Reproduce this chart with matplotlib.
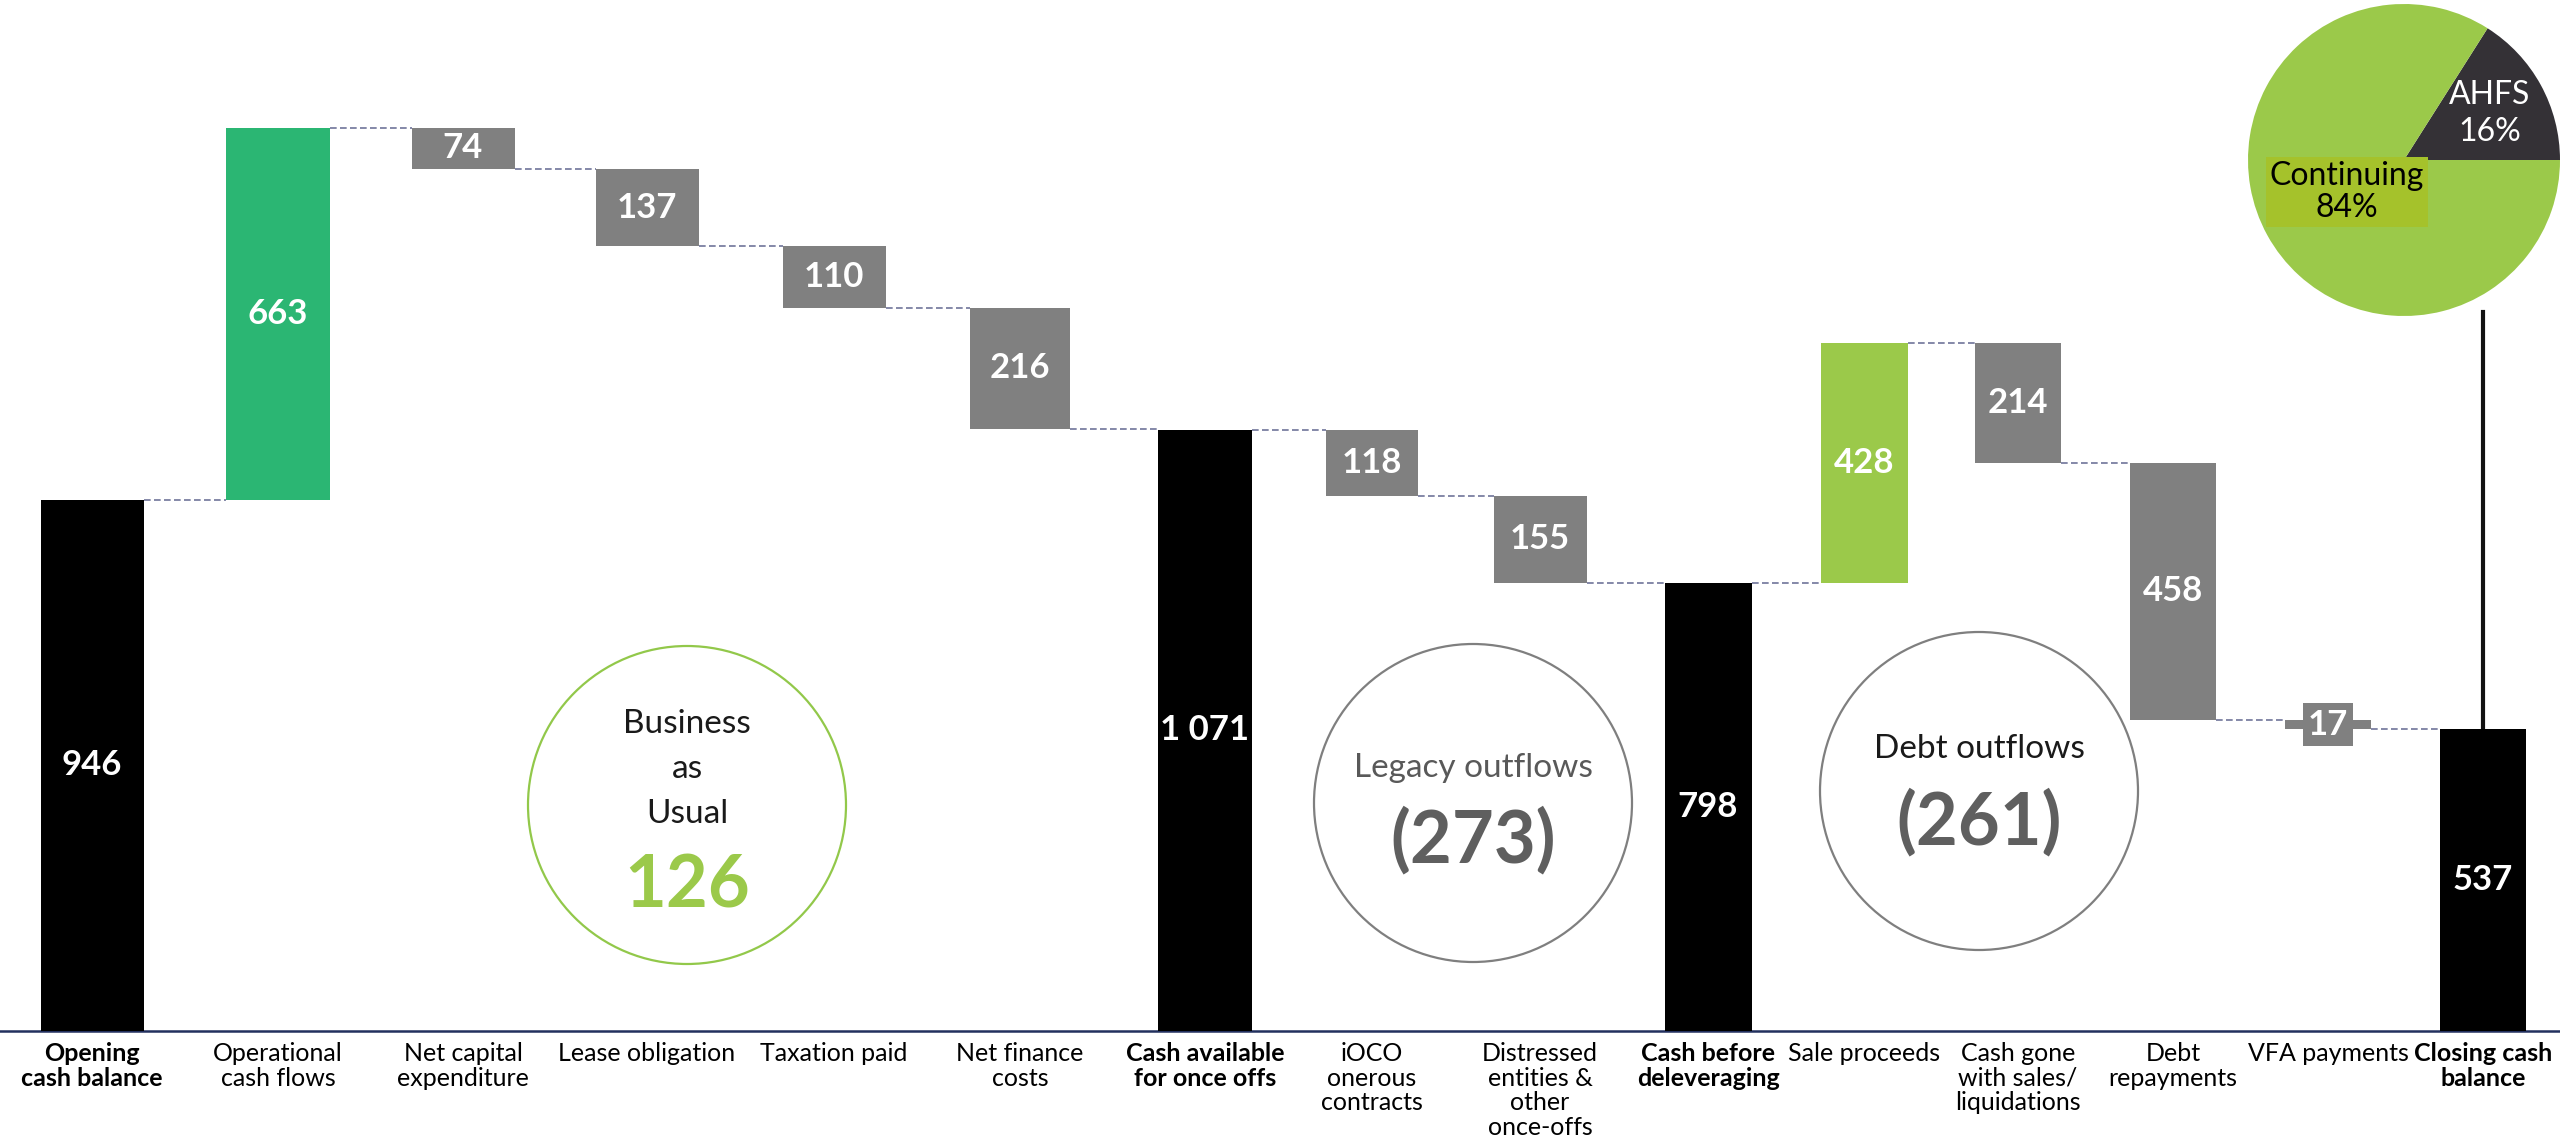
import matplotlib
matplotlib.use("Agg")
import matplotlib.pyplot as plt
from matplotlib.patches import Circle

plt.rcParams['font.family'] = ['Lato', 'DejaVu Sans']

# ---- data -------------------------------------------------------------
categories = [
    "Opening\ncash balance", "Operational\ncash flows", "Net capital\nexpenditure",
    "Lease obligation", "Taxation paid", "Net finance\ncosts",
    "Cash available\nfor once offs", "iOCO\nonerous\ncontracts",
    "Distressed\nentities &\nother\nonce-offs", "Cash before\ndeleveraging",
    "Sale proceeds", "Cash gone\nwith sales/\nliquidations", "Debt\nrepayments",
    "VFA payments", "Closing cash\nbalance",
]
amounts = [946, 663, 74, 137, 110, 216, 1071, 118, 155, 798, 428, 214, 458, 17, 537]
kinds = ["total", "inflow", "outflow", "outflow", "outflow", "outflow", "total",
         "outflow", "outflow", "total", "inflow", "outflow", "outflow", "outflow", "total"]

# summary bubbles: title and the bars they sum up
group_titles = ["Business\nas\nUsual", "Legacy outflows", "Debt outflows"]
group_members = [[1, 2, 3, 4, 5], [7, 8], [10, 11, 12, 13]]

pie_labels = ["AHFS", "Continuing"]
pie_shares = [16, 84]

# ---- layout & style ---------------------------------------------------
W, H = 2560, 1146
x_pos = [92, 278, 463, 647, 834, 1020, 1205, 1372, 1540, 1708, 1864, 2018, 2173, 2328, 2483]
bar_w = [103, 104, 103, 103, 103, 100, 94, 92, 93, 87, 87, 86, 86, 86, 86]
bar_colors = ["#000000", "#2BB673", "#808080", "#808080", "#808080", "#808080", "#000000",
              "#808080", "#808080", "#000000", "#9BC94A", "#808080", "#808080", "#808080",
              "#000000"]
bold_ticks = {0, 6, 9, 14}
baseline_px = 1031
px_per_unit = 0.5615

fig = plt.figure(figsize=(W / 100, H / 100), dpi=100)
fig.patch.set_facecolor("white")
ax = fig.add_axes([0, (H - baseline_px) / H, 1, baseline_px / H])
ax.set_xlim(0, W)
ax.set_ylim(0, baseline_px / px_per_unit)

# running waterfall levels
bottoms, heights, ends = [], [], []
level = 0
for amt, kind in zip(amounts, kinds):
    if kind == "total":
        b = 0
        level = amt
    elif kind == "inflow":
        b = level
        level += amt
    else:
        level -= amt
        b = level
    bottoms.append(b)
    heights.append(amt)
    ends.append(level)

ax.bar(x_pos, heights, bottom=bottoms, width=bar_w, color=bar_colors,
       linewidth=0, zorder=3)

# dashed connectors between consecutive bars
for i in range(len(amounts) - 1):
    y = ends[i]
    ax.plot([x_pos[i] + bar_w[i] / 2, x_pos[i + 1] - bar_w[i + 1] / 2], [y, y],
            color="#6f7499", lw=1.2, ls=(0, (4, 2)), zorder=2)

# value labels
for i, (b, h) in enumerate(zip(bottoms, heights)):
    txt = f"{h:,}".replace(",", " ")
    kw = {}
    if h < 60:
        kw["bbox"] = dict(boxstyle="square,pad=0.15", fc=bar_colors[i], ec="none")
    ax.text(x_pos[i], b + h / 2, txt, ha="center", va="center", color="white",
            fontsize=25, fontweight="bold", zorder=5, **kw)

# pie geometry (pixels), used for the stem and the pie axes
pcx, pcy, pr = 2404, 160, 156

# vertical stem from closing balance up to the pie
stem_top = (baseline_px - (pcy + pr) + 4) / px_per_unit
ax.plot([x_pos[-1], x_pos[-1]], [ends[-1], stem_top], color="#111111",
        lw=3, zorder=1, clip_on=False)

# axes styling
for side in ("top", "left", "right"):
    ax.spines[side].set_visible(False)
ax.spines["bottom"].set_color("#22305E")
ax.spines["bottom"].set_linewidth(1.8)
ax.set_yticks([])
ax.set_xticks(x_pos)
ax.set_xticklabels(categories, fontsize=18, linespacing=1.08, color="#000000")
for i, lab in enumerate(ax.get_xticklabels()):
    if i in bold_ticks:
        lab.set_fontweight("bold")
ax.tick_params(axis="x", length=0, pad=8)
ax.set_facecolor("none")

# ---- summary bubbles (pixel overlay) ------------------------------------
ov = fig.add_axes([0, 0, 1, 1], zorder=4)
ov.set_xlim(0, W)
ov.set_ylim(H, 0)
ov.axis("off")
ov.patch.set_alpha(0)

bubble_centres = [(687, 805), (1473, 803), (1979, 791)]
bubble_edge = ["#92C84A", "#7F7F7F", "#7F7F7F"]
title_color = ["#1A1A1A", "#595959", "#1A1A1A"]
value_color = ["#9BC94A", "#5F5F5F", "#5F5F5F"]
title_base = [733, 777, 758]
value_base = [908, 862, 844]

for g, members in enumerate(group_members):
    net = sum(amounts[i] if kinds[i] == "inflow" else -amounts[i] for i in members)
    label = f"{net}" if net >= 0 else f"({-net})"
    cx, cy = bubble_centres[g]
    ov.add_patch(Circle((cx, cy), 159, fill=False, ec=bubble_edge[g], lw=1.6))
    for k, line in enumerate(group_titles[g].split("\n")):
        ov.text(cx, title_base[g] + 45 * k, line, ha="center", va="baseline",
                fontsize=24, color=title_color[g])
    ov.text(cx, value_base[g], label, ha="center", va="baseline", fontsize=52,
            fontweight="bold", color=value_color[g])

# ---- pie ----------------------------------------------------------------
pax = fig.add_axes([(pcx - pr) / W, (H - pcy - pr) / H, 2 * pr / W, 2 * pr / H], zorder=6)
pax.pie(pie_shares, colors=["#343136", "#9BC94A"], startangle=0, counterclock=True,
        wedgeprops=dict(linewidth=0))
pax.set_xlim(-1, 1)
pax.set_ylim(-1, 1)
pax.set_aspect("equal")
pax.axis("off")
pax.text(0.55, 0.30, f"{pie_labels[0]}\n{pie_shares[0]}%", ha="center", va="center",
         color="white", fontsize=23, linespacing=1.3)
pax.text(-0.365, -0.205, f"{pie_labels[1]}\n{pie_shares[1]}%", ha="center", va="center",
         color="black", fontsize=23, linespacing=1.1,
         bbox=dict(boxstyle="square,pad=0.12", fc="#A5C22B", ec="none"))

fig.savefig("out.png", dpi=100, facecolor="white")
